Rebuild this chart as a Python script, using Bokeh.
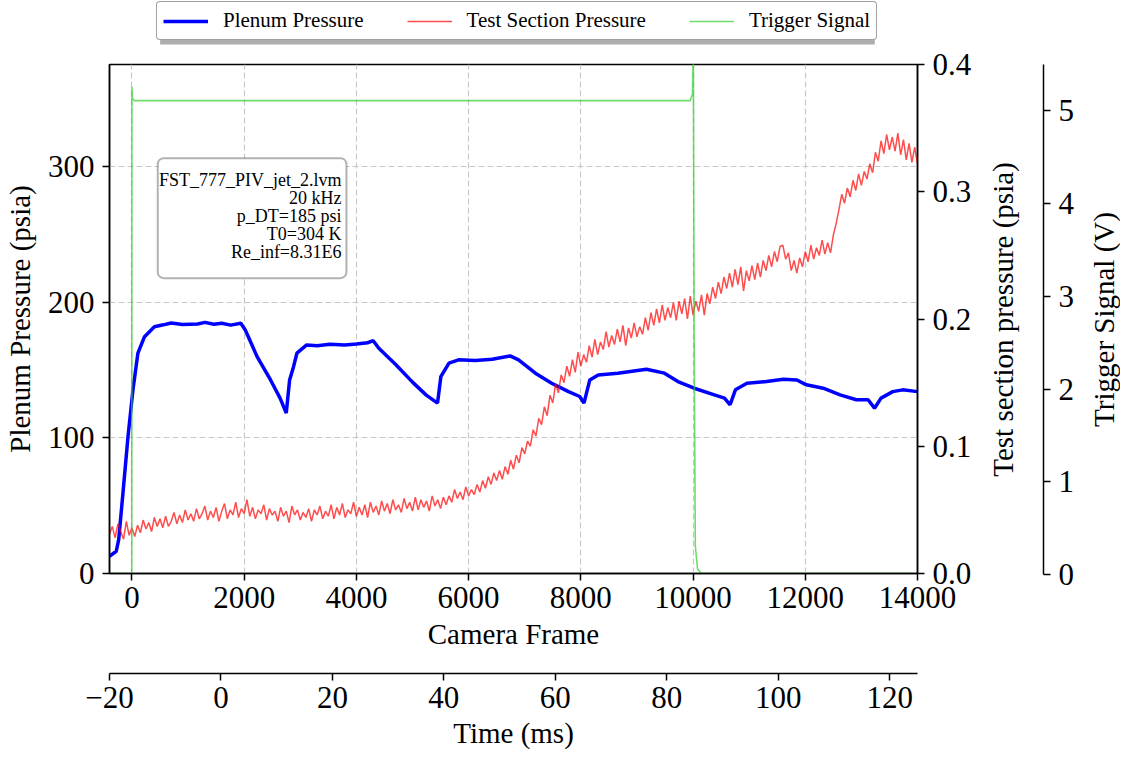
import math
from bokeh.plotting import figure
from bokeh.layouts import column, row
from bokeh.models import (Range1d, LinearAxis, FixedTicker, NumeralTickFormatter,
                          Legend, LegendItem, Label, BoxAnnotation)
from bokeh.embed import file_html
from bokeh.resources import INLINE

FONT = "Liberation Serif"

# ---------------- data ----------------
plenum_frame = [-400, -280, -236, -160, -70, 18, 106, 224, 400, 560, 700, 900, 1170, 1300, 1460,
                1600, 1760, 1940, 2020, 2230, 2470, 2640, 2750, 2810, 2880, 2940, 3115, 3300,
                3530, 3790, 4000, 4200, 4300, 4400, 4700, 5000, 5240, 5446, 5505, 5650, 5820,
                6120, 6420, 6740, 6890, 7190, 7480, 7780, 7980, 8056, 8160, 8310, 8660, 9170,
                9490, 9730, 10020, 10380, 10560, 10660, 10755, 10960, 11310, 11610, 11850,
                12020, 12320, 12620, 12910, 13120, 13234, 13350, 13560, 13735, 14000]
plenum_psia = [12.7, 16.4, 25.0, 59.3, 101.0, 135.3, 162.3, 174.5, 181.8, 183.2, 184.6, 183.4,
               183.8, 185.0, 183.6, 184.4, 183.0, 184.3, 179.4, 159.8, 142.6, 129.2, 118.2,
               142.6, 152.4, 162.3, 168.4, 167.8, 168.9, 168.4, 169.0, 170.0, 171.5, 166.0,
               154.0, 141.0, 131.6, 125.5, 145.0, 155.0, 157.4, 156.9, 157.8, 160.3, 157.4,
               147.6, 140.2, 134.0, 130.4, 125.5, 142.6, 146.3, 147.6, 150.5, 147.6, 141.4,
               136.5, 131.6, 129.2, 124.3, 135.3, 140.2, 141.4, 143.1, 142.6, 139.0, 136.5,
               131.6, 128.0, 128.0, 121.8, 129.2, 134.0, 135.3, 134.0]

ts_frame = list(range(-400, 14001, 50))
ts_psia = [
    0.031, 0.037, 0.028, 0.039, 0.033, 0.027, 0.041, 0.030, 0.036, 0.029,
    0.038, 0.032, 0.042, 0.035, 0.040, 0.033, 0.044, 0.037, 0.043, 0.036,
    0.045, 0.037, 0.041, 0.048, 0.039, 0.046, 0.040, 0.050, 0.042, 0.047,
    0.041, 0.051, 0.043, 0.047, 0.053, 0.042, 0.049, 0.044, 0.052, 0.041,
    0.049, 0.055, 0.043, 0.050, 0.046, 0.056, 0.044, 0.051, 0.047, 0.058,
    0.045, 0.052, 0.043, 0.050, 0.047, 0.054, 0.042, 0.051, 0.046, 0.049,
    0.041, 0.052, 0.045, 0.049, 0.040, 0.053, 0.046, 0.050, 0.042, 0.048,
    0.044, 0.051, 0.041, 0.050, 0.046, 0.053, 0.043, 0.049, 0.045, 0.054,
    0.043, 0.052, 0.046, 0.055, 0.044, 0.050, 0.047, 0.056, 0.045, 0.052,
    0.046, 0.054, 0.044, 0.056, 0.048, 0.053, 0.046, 0.057, 0.049, 0.055,
    0.047, 0.058, 0.050, 0.054, 0.048, 0.059, 0.051, 0.056, 0.049, 0.060,
    0.050, 0.058, 0.052, 0.057, 0.049, 0.061, 0.053, 0.058, 0.051, 0.060,
    0.054, 0.061, 0.056, 0.066, 0.059, 0.064, 0.058, 0.068, 0.061, 0.066,
    0.062, 0.070, 0.064, 0.073, 0.067, 0.076, 0.070, 0.079, 0.073, 0.081,
    0.074, 0.084, 0.078, 0.089, 0.082, 0.093, 0.087, 0.099, 0.094, 0.104,
    0.100, 0.113, 0.108, 0.122, 0.117, 0.131, 0.124, 0.140, 0.134, 0.149,
    0.142, 0.156, 0.150, 0.163, 0.155, 0.168, 0.158, 0.174, 0.163, 0.172,
    0.166, 0.179, 0.170, 0.184, 0.172, 0.182, 0.176, 0.190, 0.178, 0.187,
    0.180, 0.192, 0.182, 0.195, 0.179, 0.193, 0.185, 0.197, 0.186, 0.194,
    0.188, 0.201, 0.191, 0.205, 0.195, 0.208, 0.197, 0.211, 0.199, 0.209,
    0.201, 0.213, 0.199, 0.214, 0.204, 0.216, 0.200, 0.218, 0.203, 0.214,
    0.206, 0.219, 0.203, 0.220, 0.212, 0.225, 0.216, 0.229, 0.220, 0.233,
    0.224, 0.236, 0.225, 0.239, 0.227, 0.241, 0.222, 0.238, 0.230, 0.242,
    0.231, 0.244, 0.233, 0.246, 0.238, 0.250, 0.241, 0.253, 0.245, 0.257,
    0.258, 0.247, 0.252, 0.238, 0.246, 0.236, 0.248, 0.241, 0.253, 0.245,
    0.258, 0.247, 0.256, 0.250, 0.262, 0.251, 0.260, 0.252, 0.266, 0.275,
    0.286, 0.298, 0.291, 0.303, 0.296, 0.309, 0.301, 0.314, 0.305, 0.316,
    0.310, 0.322, 0.315, 0.331, 0.324, 0.340, 0.330, 0.345, 0.333, 0.343,
    0.332, 0.346, 0.329, 0.341, 0.325, 0.338, 0.323, 0.335, 0.322]

trig_frame = [-400, -3, 0, 8, 40, 9950, 9990, 10005, 10020, 10040, 10080, 10150, 14000]
trig_volt = [0.0, 0.0, 5.26, 5.14, 5.11, 5.11, 5.18, 5.8, 2.5, 0.3, 0.05, 0.0, 0.0]

frame_ticks = [0, 2000, 4000, 6000, 8000, 10000, 12000, 14000]
plenum_ticks = [0, 100, 200, 300]
ts_ticks = [0.0, 0.1, 0.2, 0.3, 0.4]
trig_ticks = [0, 1, 2, 3, 4, 5]
time_ticks = [-20, 0, 20, 40, 60, 80, 100, 120]

series_names = ["Plenum Pressure", "Test Section Pressure", "Trigger Signal"]
axis_titles = ["Camera Frame", "Plenum Pressure (psia)", "Test section pressure (psia)",
               "Trigger Signal (V)", "Time (ms)"]
info_lines = ["FST_777_PIV_jet_2.lvm", "20 kHz", "p_DT=185 psi", "T0=304 K", "Re_inf=8.31E6"]

BLUE, RED, GREEN = "#0000ff", "#ff0000", "#32cd32"

TOTAL_H = 751
LEG_H = 48
FRAME_TOP = 64
FRAME_H = 510
BOTTOM = TOTAL_H - FRAME_TOP - FRAME_H
MAIN_W = 985
MAIN_RIGHT = 68


def style_axis(ax, label, tick_font="31px"):
    ax.axis_label = label
    ax.axis_label_text_font = FONT
    ax.axis_label_text_font_size = "29px"
    ax.axis_label_text_font_style = "normal"
    ax.axis_label_text_color = "black"
    ax.major_label_text_font = FONT
    ax.major_label_text_font_size = tick_font
    ax.major_label_text_color = "black"
    ax.axis_line_color = "black"
    ax.axis_line_width = 1.5
    ax.major_tick_line_color = "black"
    ax.major_tick_line_width = 1.5
    ax.major_tick_out = 7
    ax.major_tick_in = 0
    ax.minor_tick_line_color = None
    ax.minor_tick_out = 0


def spacer(ax, size):
    ax.ticker = FixedTicker(ticks=[0])
    ax.major_label_overrides = {0: " "}
    ax.axis_line_color = None
    ax.major_tick_line_color = None
    ax.minor_tick_line_color = None
    ax.major_tick_out = size
    ax.major_tick_in = 0
    ax.minor_tick_out = 0
    ax.major_label_standoff = 0
    ax.major_label_text_font_size = "1px"


def blank(fig):
    fig.outline_line_color = None
    fig.grid.visible = False
    fig.background_fill_color = "white"
    fig.border_fill_color = "white"


# ---------------- main figure ----------------
p = figure(width=MAIN_W, height=TOTAL_H - LEG_H, output_backend="svg", toolbar_location=None,
           title=None, x_range=Range1d(-400, 14000), y_range=Range1d(0, 375),
           min_border_left=103, min_border_right=MAIN_RIGHT, min_border_top=FRAME_TOP - LEG_H,
           min_border_bottom=BOTTOM)
p.extra_y_ranges = {"ts": Range1d(0, 0.4), "trig": Range1d(0, 5.5)}
p.extra_x_ranges = {"time": Range1d(-20, 125)}
p.background_fill_color = "white"
p.border_fill_color = "white"
p.outline_line_color = "black"
p.outline_line_width = 1.5

xa = p.xaxis[0]
style_axis(xa, axis_titles[0])
xa.ticker = FixedTicker(ticks=frame_ticks)
xa.major_label_standoff = 6
xa.axis_label_standoff = 7

ya = p.yaxis[0]
style_axis(ya, axis_titles[1])
ya.ticker = FixedTicker(ticks=plenum_ticks)
ya.major_label_standoff = 8
ya.axis_label_standoff = 9

ra = LinearAxis(y_range_name="ts")
style_axis(ra, None)
ra.ticker = FixedTicker(ticks=ts_ticks)
ra.formatter = NumeralTickFormatter(format="0.0")
ra.major_label_standoff = 8
p.add_layout(ra, "right")

sp_b = LinearAxis(x_range_name="time")
spacer(sp_b, 17)
p.add_layout(sp_b, "below")

tm = LinearAxis(x_range_name="time")
style_axis(tm, axis_titles[4])
tm.ticker = FixedTicker(ticks=time_ticks)
tm.major_label_overrides = {-20: "\u221220"}
tm.major_label_standoff = 6
tm.axis_label_standoff = 6
p.add_layout(tm, "below")

p.xgrid.ticker = FixedTicker(ticks=frame_ticks)
p.ygrid.ticker = FixedTicker(ticks=plenum_ticks)
for g in (p.xgrid[0], p.ygrid[0]):
    g.grid_line_color = "#c8c8c8"
    g.grid_line_width = 1.2
    g.grid_line_dash = "6 3"

p.line(plenum_frame, plenum_psia, line_color=BLUE, line_width=3.5)
p.line(ts_frame, ts_psia, y_range_name="ts", line_color=RED, line_alpha=0.7, line_width=1.5)
p.line(trig_frame, trig_volt, y_range_name="trig", line_color=GREEN, line_alpha=0.7,
       line_width=1.6)

box = BoxAnnotation(left=460, right=3823, top=306, bottom=217.6,
                    fill_color="white", fill_alpha=1.0,
                    line_color="black", line_width=2, border_radius=6)
p.add_layout(box)
for txt, yb in zip(info_lines, [290.2, 276.7, 263.2, 250.4, 236.9]):
    p.add_layout(Label(x=3735, y=yb, text=txt, text_align="right",
                       text_baseline="alphabetic", text_font=FONT,
                       text_font_size="18px", text_color="black"))

# ---------------- legend strip above the plot ----------------
lg = figure(width=MAIN_W, height=LEG_H, output_backend="svg", toolbar_location=None, title=None,
            x_range=Range1d(0, 814), y_range=Range1d(0, LEG_H),
            x_axis_location=None, y_axis_location=None,
            min_border_left=103, min_border_right=MAIN_RIGHT, min_border_top=0,
            min_border_bottom=0)
blank(lg)
lg.quad(left=51, right=771, bottom=4, top=39, fill_color="#8c8c8c", fill_alpha=0.7,
        line_color=None)
r1 = lg.line([-50, -40], [-50, -50], line_color=BLUE, line_width=3.5)
r2 = lg.line([-50, -40], [-50, -50], line_color=RED, line_alpha=0.7, line_width=1.5)
r3 = lg.line([-50, -40], [-50, -50], line_color=GREEN, line_alpha=0.7, line_width=1.6)
legend = Legend(items=[LegendItem(label=n, renderers=[r]) for n, r in
                       zip(series_names, [r1, r2, r3])],
                orientation="horizontal", location=(47, 8))
legend.label_text_font = FONT
legend.label_text_font_size = "21px"
legend.label_text_color = "black"
legend.glyph_width = 45
legend.glyph_height = 20
legend.label_height = 20
legend.label_standoff = 15
legend.spacing = 43
legend.padding = 6
legend.margin = 0
legend.border_line_color = "#444444"
legend.border_line_width = 1
legend.border_radius = 4
legend.background_fill_color = "white"
legend.background_fill_alpha = 1.0
lg.add_layout(legend)

# ---------------- right strip: test-section title + trigger axis ----------------
R = figure(width=102, height=TOTAL_H, output_backend="svg", toolbar_location=None, title=None,
           x_range=Range1d(0, 58), y_range=Range1d(0, 5.5),
           x_axis_location=None, y_axis_location="right",
           min_border_left=0, min_border_right=44, min_border_top=FRAME_TOP,
           min_border_bottom=BOTTOM)
blank(R)
style_axis(R.yaxis[0], None)
R.yaxis[0].ticker = FixedTicker(ticks=trig_ticks)
R.yaxis[0].major_label_standoff = 8
R.add_layout(Label(x=17, y=2.75, text=axis_titles[2], angle=math.pi / 2,
                   text_align="center", text_baseline="middle",
                   text_font=FONT, text_font_size="29px", text_color="black"))

R2 = figure(width=33, height=TOTAL_H, output_backend="svg", toolbar_location=None, title=None,
            x_range=Range1d(0, 33), y_range=Range1d(0, 5.5),
            x_axis_location=None, y_axis_location=None,
            min_border_left=0, min_border_right=0, min_border_top=FRAME_TOP,
            min_border_bottom=BOTTOM)
blank(R2)
R2.add_layout(Label(x=16.5, y=2.75, text=axis_titles[3], angle=math.pi / 2,
                    text_align="center", text_baseline="middle",
                    text_font=FONT, text_font_size="29px", text_color="black"))

layout = row(column(lg, p, spacing=0), R, R2, spacing=0)
open("out.html", "w").write(file_html(layout, INLINE))
